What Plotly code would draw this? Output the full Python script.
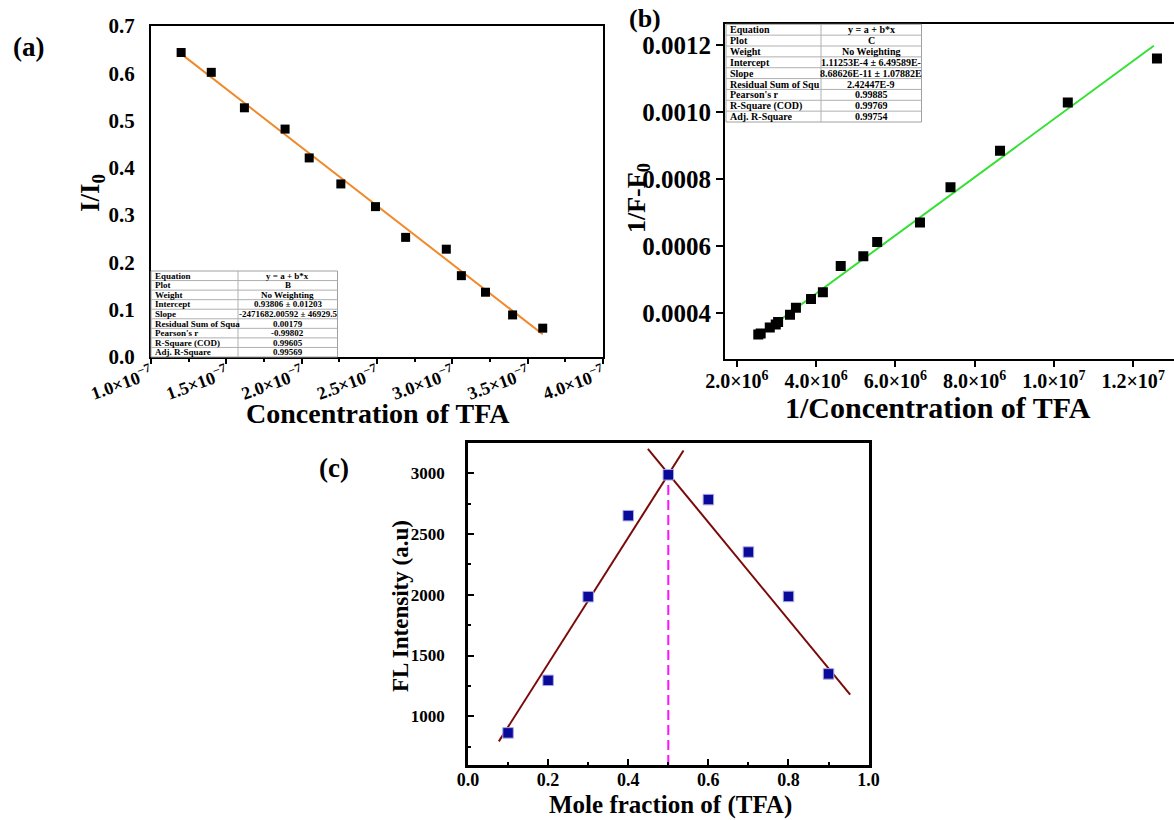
import plotly.graph_objects as go

# ---------------- data ----------------
# (a) I/I0 vs concentration of TFA
a_conc = [1.20e-7, 1.40e-7, 1.62e-7, 1.89e-7, 2.05e-7, 2.26e-7, 2.49e-7,
          2.69e-7, 2.96e-7, 3.06e-7, 3.22e-7, 3.40e-7, 3.60e-7]
a_ratio = [0.644, 0.602, 0.527, 0.482, 0.421, 0.366, 0.318,
           0.253, 0.228, 0.172, 0.137, 0.089, 0.061]
a_fit_x = [1.20e-7, 3.60e-7]
a_fit_y = [0.641, 0.048]
a_xtick_vals = [1.0e-7, 1.5e-7, 2.0e-7, 2.5e-7, 3.0e-7, 3.5e-7, 4.0e-7]
a_xtick_text = ["1.0×10<sup>−7</sup>", "1.5×10<sup>−7</sup>", "2.0×10<sup>−7</sup>",
                "2.5×10<sup>−7</sup>", "3.0×10<sup>−7</sup>", "3.5×10<sup>−7</sup>",
                "4.0×10<sup>−7</sup>"]
a_table_labels = ["Equation", "Plot", "Weight", "Intercept", "Slope",
                  "Residual Sum of Squa", "Pearson's r", "R-Square (COD)", "Adj. R-Square"]
a_table_values = ["y = a + b*x", "B", "No Weighting", "0.93806 ± 0.01203",
                  "-2471682.00592 ± 46929.5", "0.00179", "-0.99802", "0.99605", "0.99569"]

# (b) 1/(F-F0) vs 1/concentration
b_inv = [2.54e6, 2.60e6, 2.83e6, 2.98e6, 3.04e6, 3.34e6, 3.49e6, 3.87e6, 4.17e6,
         4.62e6, 5.19e6, 5.54e6, 6.62e6, 7.39e6, 8.64e6, 10.35e6, 12.60e6]
b_val = [0.000336, 0.000339, 0.000357, 0.000366, 0.000373, 0.000395, 0.000416,
         0.000442, 0.000462, 0.000540, 0.000569, 0.000612, 0.000670, 0.000775,
         0.000884, 0.001028, 0.001159]
b_fit_x = [2.50e6, 12.52e6]
b_fit_y = [0.000328, 0.001197]
b_xtick_vals = [2e6, 4e6, 6e6, 8e6, 1e7, 1.2e7]
b_xtick_text = ["2.0×10<sup>6</sup>", "4.0×10<sup>6</sup>", "6.0×10<sup>6</sup>",
                "8.0×10<sup>6</sup>", "1.0×10<sup>7</sup>", "1.2×10<sup>7</sup>"]
b_ytick_vals = [0.0004, 0.0006, 0.0008, 0.0010, 0.0012]
b_table_labels = ["Equation", "Plot", "Weight", "Intercept", "Slope",
                  "Residual Sum of Squ", "Pearson's r", "R-Square (COD)", "Adj. R-Square"]
b_table_values = ["y = a + b*x", "C", "No Weighting", "1.11253E-4 ± 6.49589E-",
                  "8.68626E-11 ± 1.07882E", "2.42447E-9", "0.99885", "0.99769", "0.99754"]

# (c) Job's plot
c_frac = [0.1, 0.2, 0.3, 0.4, 0.5, 0.6, 0.7, 0.8, 0.9]
c_int = [864, 1296, 1984, 2650, 2986, 2782, 2351, 1986, 1349]
c_left_x = [0.077, 0.538]
c_left_y = [794, 3186]
c_right_x = [0.449, 0.954]
c_right_y = [3200, 1178]
c_dash_x = [0.5, 0.5]
c_dash_y = [600, 2985]

# ---------------- helpers ----------------
W, H = 1174, 820
FONT = "Liberation Serif, Times New Roman, serif"


def px(x):
    return x / W


def py(y):
    return 1 - y / H


fig = go.Figure()

# (a)
fig.add_trace(go.Scatter(x=a_fit_x, y=a_fit_y, mode="lines",
                         line=dict(color="#F0892A", width=2), xaxis="x", yaxis="y"))
fig.add_trace(go.Scatter(x=a_conc, y=a_ratio, mode="markers",
                         marker=dict(symbol="square", size=9, color="black"),
                         xaxis="x", yaxis="y"))
# (b)
fig.add_trace(go.Scatter(x=b_fit_x, y=b_fit_y, mode="lines",
                         line=dict(color="#33E033", width=2), xaxis="x2", yaxis="y2"))
fig.add_trace(go.Scatter(x=b_inv, y=b_val, mode="markers",
                         marker=dict(symbol="square", size=10, color="black"),
                         xaxis="x2", yaxis="y2"))
# (c)
fig.add_trace(go.Scatter(x=c_dash_x, y=c_dash_y, mode="lines",
                         line=dict(color="#FF11FF", width=2, dash="10px,5px"),
                         xaxis="x3", yaxis="y3"))
fig.add_trace(go.Scatter(x=c_left_x, y=c_left_y, mode="lines",
                         line=dict(color="#7A0A0A", width=2), xaxis="x3", yaxis="y3"))
fig.add_trace(go.Scatter(x=c_right_x, y=c_right_y, mode="lines",
                         line=dict(color="#7A0A0A", width=2), xaxis="x3", yaxis="y3"))
fig.add_trace(go.Scatter(x=c_frac, y=c_int, mode="markers",
                         marker=dict(symbol="square", size=10.5, color="#0A0A9A",
                                     line=dict(color="#A8A8E0", width=1)),
                         xaxis="x3", yaxis="y3"))


def tfont(size):
    return dict(family=FONT, size=size, color="black", weight="bold")


common = dict(showgrid=False, zeroline=False, showline=True, linecolor="black",
              automargin=False)

layout = dict(
    width=W, height=H, margin=dict(l=0, r=0, t=0, b=0, pad=0), autosize=False,
    paper_bgcolor="white", plot_bgcolor="white", showlegend=False,
    xaxis=dict(domain=[px(151), px(603)], range=[1e-7, 4e-7], anchor="y",
               tickmode="array", tickvals=a_xtick_vals, ticktext=a_xtick_text,
               tickangle=-20, ticks="outside", ticklen=5, tickwidth=2, tickcolor="black",
               minor=dict(ticks="outside", ticklen=3, tickwidth=1.5, dtick=0.25e-7,
                          tick0=1e-7, tickcolor="black"),
               ticklabelstandoff=-7,
               linewidth=2, mirror=True, tickfont=tfont(18), **common),
    yaxis=dict(domain=[py(357), py(26)], range=[0, 0.7], anchor="x",
               tickmode="linear", tick0=0, dtick=0.1, tickformat=".1f",
               ticks="", ticklabelstandoff=10,
               linewidth=2, mirror=True, tickfont=tfont(21), **common),
    xaxis2=dict(domain=[px(725), 1.0], range=[1.70e6, 13.03e6], anchor="y2",
                tickmode="array", tickvals=b_xtick_vals, ticktext=b_xtick_text,
                ticks="outside", ticklen=6, tickwidth=2, tickcolor="black",
                ticklabelstandoff=-3,
                linewidth=2, mirror=True, tickfont=tfont(20), **common),
    yaxis2=dict(domain=[py(359.3), py(24.3)], range=[0.000262, 0.001261], anchor="x2",
                tickmode="array", tickvals=b_ytick_vals, tickformat=".4f",
                ticks="outside", ticklen=7, tickwidth=2, tickcolor="black",
                linewidth=2, mirror=False, tickfont=tfont(25), **common),
    xaxis3=dict(domain=[px(468), px(868.6)], range=[0, 1.0], anchor="y3",
                tickmode="linear", tick0=0, dtick=0.2, tickformat=".1f",
                ticks="inside", ticklen=6, tickwidth=2, tickcolor="black",
                minor=dict(ticks="inside", ticklen=3, tickwidth=1.5, dtick=0.1,
                           tickcolor="black"),
                ticklabelstandoff=-3,
                linewidth=2.5, mirror=True, tickfont=tfont(18), **common),
    yaxis3=dict(domain=[py(765), py(442.7)], range=[600, 3250], anchor="x3",
                tickmode="linear", tick0=0, dtick=500,
                ticks="inside", ticklen=6, tickwidth=2, tickcolor="black",
                minor=dict(ticks="inside", ticklen=3, tickwidth=1.5, dtick=250,
                           tickcolor="black"),
                ticklabelstandoff=17,
                linewidth=2.5, mirror=True, tickfont=tfont(17), **common),
)
fig.update_layout(**layout)

shapes = []
annotations = []


def add_table(x0, xm, x1, y0, y1, labels, values, fsize):
    n = len(labels)
    rh = (y1 - y0) / n
    shapes.append(dict(type="rect", xref="paper", yref="paper",
                       x0=px(x0), x1=px(x1), y0=py(y1), y1=py(y0),
                       line=dict(color="#A0A0A0", width=1), fillcolor="white",
                       layer="above"))
    for i in range(1, n):
        yy = y0 + i * rh
        shapes.append(dict(type="line", xref="paper", yref="paper",
                           x0=px(x0), x1=px(x1), y0=py(yy), y1=py(yy),
                           line=dict(color="#B0B0B0", width=1)))
    shapes.append(dict(type="line", xref="paper", yref="paper",
                       x0=px(xm), x1=px(xm), y0=py(y1), y1=py(y0),
                       line=dict(color="#B0B0B0", width=1)))
    for i, (lab, val) in enumerate(zip(labels, values)):
        yc = y0 + (i + 0.5) * rh
        annotations.append(dict(xref="paper", yref="paper", x=px(x0 + 2), y=py(yc),
                                text="<b>%s</b>" % lab, showarrow=False,
                                xanchor="left", yanchor="middle",
                                font=dict(family=FONT, size=fsize, color="black")))
        annotations.append(dict(xref="paper", yref="paper", x=px((xm + x1) / 2), y=py(yc),
                                text="<b>%s</b>" % val, showarrow=False,
                                xanchor="center", yanchor="middle",
                                font=dict(family=FONT, size=fsize, color="black")))


add_table(151, 238, 337.5, 271, 357, a_table_labels, a_table_values, 9)
add_table(726, 821, 921.5, 24.3, 122, b_table_labels, b_table_values, 10)


def text(x, y, t, size, angle=0):
    annotations.append(dict(xref="paper", yref="paper", x=px(x), y=py(y),
                            text=t, showarrow=False, textangle=angle,
                            xanchor="center", yanchor="middle",
                            font=dict(family=FONT, size=size, color="black")))


# panel labels
text(29, 47, "<b>(a)</b>", 27)
text(645, 18, "<b>(b)</b>", 26)
text(334, 468, "<b>(c)</b>", 27)
# axis titles
text(92, 193, "<b>I/I<sub>0</sub></b>", 27, -90)
text(378, 413, "<b>Concentration of TFA</b>", 28)
text(638, 198, "<b>1/F-F<sub>0</sub></b>", 26, -90)
text(938, 407, "<b>1/Concentration of TFA</b>", 30)
text(400, 606, "<b>FL Intensity (a.u)</b>", 23, -90)
text(670, 805, "<b>Mole fraction of (TFA)</b>", 25)

fig.update_layout(shapes=shapes, annotations=annotations)
fig.write_html("out.html")
